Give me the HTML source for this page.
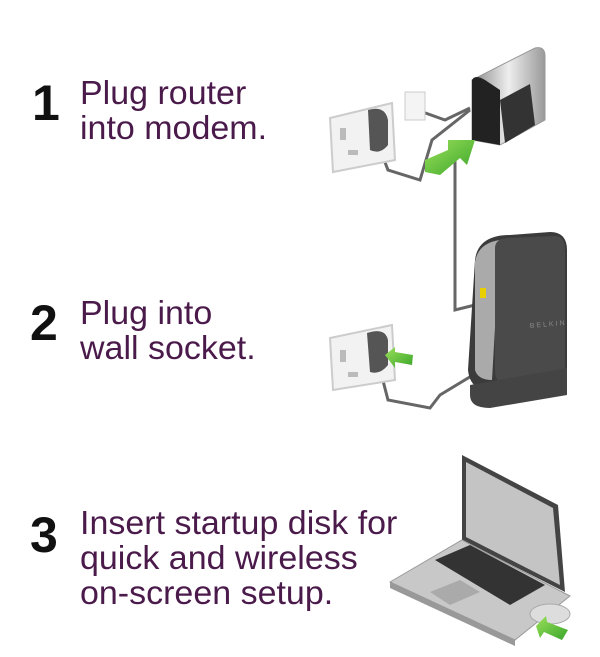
<!DOCTYPE html>
<html><head><style>
body{margin:0;width:600px;height:657px;background:#fff;position:relative;overflow:hidden;font-family:"Liberation Sans",sans-serif}
.n{position:absolute;font-weight:bold;font-size:50px;color:#111;line-height:1}
.t{position:absolute;font-size:33px;color:#4a1a4a;line-height:35px;letter-spacing:0px;white-space:nowrap;transform:scaleX(1.03);transform-origin:left}
svg{position:absolute;left:0;top:0}
</style></head><body>
<svg width="600" height="657" viewBox="0 0 600 657">
<defs>
<linearGradient id="g" x1="0" y1="0" x2="1" y2="1"><stop offset="0" stop-color="#9be05a"/><stop offset="1" stop-color="#3aa52a"/></linearGradient>
<linearGradient id="s" x1="0" y1="0" x2="1" y2="0"><stop offset="0" stop-color="#888"/><stop offset=".5" stop-color="#eee"/><stop offset="1" stop-color="#999"/></linearGradient>
</defs>
<g fill="none" stroke="#666" stroke-width="3">
<path d="M381 152 L388 170 L420 180 L432 140 L470 110"/>
<path d="M417 110 L445 120 L470 108"/>
<path d="M455 140 L455 310 L475 305"/>
<path d="M381 373 L388 400 L430 408 L440 395 L478 372"/>
</g>
<path d="M330 118 L392 103 L395 160 L333 172 Z" fill="#f2f2f2" stroke="#ccc" stroke-width="2"/>
<rect x="340" y="128" width="6" height="12" fill="#bbb"/><rect x="348" y="150" width="10" height="5" fill="#bbb"/><rect x="372" y="144" width="10" height="5" fill="#bbb"/>
<path d="M368 110 Q385 105 388 120 L388 145 Q380 155 370 150 Z" fill="#555"/>
<rect x="405" y="92" width="20" height="28" fill="#f4f4f4" stroke="#ccc"/>
<path d="M472 80 L535 48 Q545 46 545 56 L545 120 L500 145 L472 140 Z" fill="url(#s)" stroke="#999"/>
<path d="M472 80 Q475 74 485 80 L500 90 L500 145 L472 140 Z" fill="#222"/>
<path d="M500 100 L530 84 L535 125 L505 143 Z" fill="#333"/>
<path d="M425 160 L448 150 L448 140 L475 140 L467 165 L460 158 L440 175 L425 172 Z" fill="url(#g)"/>
<path d="M475 260 Q478 235 510 235 L550 232 Q567 232 567 250 L567 370 Q567 385 550 386 L495 392 Q470 392 468 370 Z" fill="#3b3b3b"/>
<path d="M475 262 Q478 243 500 240 L492 380 Q478 380 475 370 Z" fill="#aaa"/>
<path d="M495 248 Q495 238 510 238 L555 236 Q565 236 565 250 L565 365 Q565 380 550 380 L508 385 Q495 385 495 370 Z" fill="#4a4a4a"/>
<text x="530" y="328" font-size="7" fill="#888" font-family="Liberation Sans" letter-spacing="2" transform="rotate(-5 530 328)">BELKIN</text>
<rect x="480" y="288" width="6" height="10" fill="#e8d000"/>
<path d="M470 385 L567 368 L567 395 L490 408 Q470 408 470 395 Z" fill="#444"/>
<path d="M330 338 L392 325 L395 380 L333 390 Z" fill="#f2f2f2" stroke="#ccc" stroke-width="2"/>
<rect x="340" y="350" width="6" height="12" fill="#bbb"/><rect x="348" y="372" width="10" height="5" fill="#bbb"/>
<path d="M367 333 Q385 327 388 340 L388 365 Q380 375 370 372 Z" fill="#555"/>
<path d="M385 355 L395 347 L395 352 L413 355 L412 365 L395 362 L395 368 Z" fill="url(#g)"/>
<path d="M462 455 L558 505 L565 592 L462 540 Z" fill="#444"/>
<path d="M466 462 L553 508 L560 585 L466 537 Z" fill="#c4c4c4"/>
<path d="M390 582 L462 540 L570 596 L515 640 Z" fill="#c8c8c8" stroke="#999"/>
<path d="M435 560 L470 545 L545 585 L510 605 Z" fill="#333"/>
<path d="M430 592 L460 580 L480 592 L450 605 Z" fill="#aaa"/>
<path d="M390 582 L515 640 L515 646 L390 588 Z" fill="#999"/>
<ellipse cx="550" cy="614" rx="20" ry="10" fill="#ddd" stroke="#aaa"/>
<path d="M536 626 L546 616 L547 622 L568 630 L562 640 L544 632 L540 638 Z" fill="url(#g)"/>
</svg>
<div class="n" style="left:32px;top:78px">1</div>
<div class="t" style="left:80px;top:75px">Plug router<br>into modem.</div>
<div class="n" style="left:30px;top:298px">2</div>
<div class="t" style="left:80px;top:295px">Plug into<br>wall socket.</div>
<div class="n" style="left:30px;top:510px">3</div>
<div class="t" style="left:80px;top:505px">Insert startup disk for<br>quick and wireless<br>on-screen setup.</div>
</body></html>
